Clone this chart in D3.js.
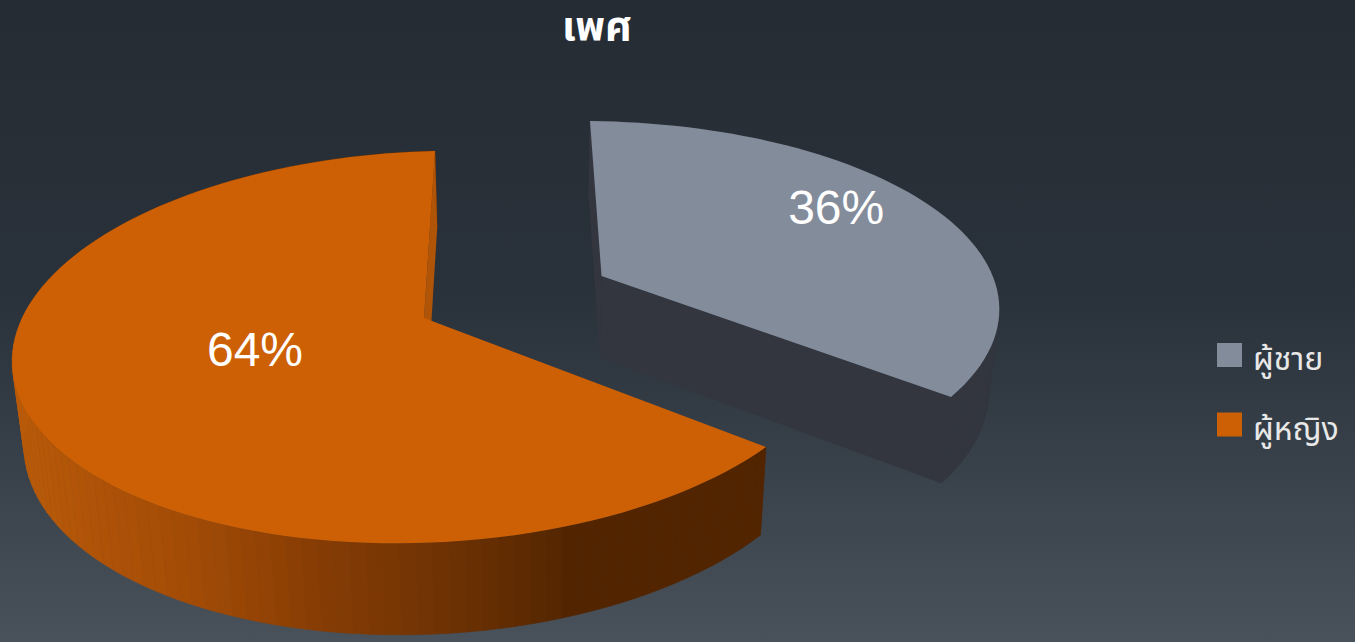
<!DOCTYPE html>
<html>
<head>
<meta charset="utf-8">
<script src="https://cdn.jsdelivr.net/npm/d3@7/dist/d3.min.js"></script>
<style>
  html, body { margin: 0; padding: 0; background: #252c34; overflow: hidden; }
  text { font-family: "Liberation Sans", Arial, "Noto Sans Thai", "Noto Sans", sans-serif; }
</style>
</head>
<body>
<svg id="chart" width="1355" height="642"></svg>
<script>
// Gender split, shown as an exploded 3D pie
const chartTitle = "เพศ";
const categories = ["ผู้ชาย", "ผู้หญิง"];
const shares = [36, 64];
const topColors = ["#838c9b", "#cd6005"];

const width = 1355, height = 642;
const svg = d3.select("#chart");

// Page background
const defs = svg.append("defs");
const bg = defs.append("linearGradient").attr("id", "bg").attr("x1", 0).attr("x2", 0).attr("y1", 0).attr("y2", 1);
[[0, "#252c34"], [0.45, "#29313a"], [0.62, "#323b44"], [1, "#49525b"]].forEach(([o, c]) =>
  bg.append("stop").attr("offset", o).attr("stop-color", c));
svg.append("rect").attr("width", width).attr("height", height).attr("fill", "url(#bg)");

// Plane projection of a disc: solved from where four of its points land on screen
function solveHomography(pairs) {
  const m = [];
  pairs.forEach(([[u, v], [x, y]]) => {
    m.push([u, v, 1, 0, 0, 0, -x * u, -x * v, x]);
    m.push([0, 0, 0, u, v, 1, -y * u, -y * v, y]);
  });
  for (let i = 0; i < 8; i++) {
    let p = i;
    for (let r = i + 1; r < 8; r++) if (Math.abs(m[r][i]) > Math.abs(m[p][i])) p = r;
    [m[i], m[p]] = [m[p], m[i]];
    for (let r = 0; r < 8; r++) {
      if (r === i) continue;
      const f = m[r][i] / m[i][i];
      for (let c = i; c < 9; c++) m[r][c] -= f * m[i][c];
    }
  }
  return m.map((row, i) => row[8] / row[i]);
}

const pieSlices = d3.pie().sort(null).value(d => d)(shares);
const unit = a => [Math.sin(a), -Math.cos(a)];
const split = pieSlices[0].endAngle;

// Each slice is pulled out of the pie, so each gets its own view of the disc
const views = [
  solveHomography([
    [[0, 0], [601.5, 276]],
    [unit(0), [590, 121]],
    [unit(split), [951, 397]],
    [unit(Math.PI / 2), [991, 272]]
  ]),
  solveHomography([
    [[0, 0], [424, 318]],
    [unit(0), [435, 151]],
    [unit(split), [766, 447]],
    [unit(Math.PI * 1.5), [18.8, 326.2]]
  ])
];

const toScreen = (H, [u, v]) => {
  const w = H[6] * u + H[7] * v + 1;
  return [(H[0] * u + H[1] * v + H[2]) / w, (H[3] * u + H[4] * v + H[5]) / w];
};

// The underside is a little narrower and the extrusion grows toward the viewer
const drop = ([x, y]) => [530 + 0.977 * (x - 530), y + 71.5 + 0.037 * y];

const wallShade = [
  () => "#33363e",
  d3.scaleLinear().domain([20, 100, 200, 300, 400, 500, 570]).clamp(true)
    .range(["#b85a08", "#ae5208", "#a04a06", "#8a3e04", "#773604", "#622d02", "#522500"])
];
const cutColors = ["#33363e", "#b05408"];
// Cut faces that turn toward the viewer, per slice
const visibleCuts = [["startAngle", "endAngle"], ["endAngle"]];

const line = d3.line();
const STEP = Math.PI / 90;

pieSlices.forEach((s, i) => {
  const g = svg.append("g").attr("class", "slice");
  const pt = (a, r) => {
    const [u, v] = unit(a);
    return toScreen(views[i], [r * u, r * v]);
  };
  const n = Math.ceil((s.endAngle - s.startAngle) / STEP);
  const angles = d3.range(n + 1).map(k => s.startAngle + (s.endAngle - s.startAngle) * k / n);
  const centre = pt(0, 0);

  // Outer wall, one narrow facet per step along the rim
  d3.pairs(angles).forEach(([a0, a1]) => {
    const p0 = pt(a0, 1), p1 = pt(a1, 1);
    const colour = wallShade[i]((p0[0] + p1[0]) / 2);
    g.append("path")
      .attr("d", line([p0, p1, drop(p1), drop(p0)]) + "Z")
      .attr("fill", colour).attr("stroke", colour).attr("stroke-width", 0.6);
  });

  // Flat cut faces
  visibleCuts[i].forEach(key => {
    const rim = pt(s[key], 1);
    g.append("path")
      .attr("d", line([centre, rim, drop(rim), drop(centre)]) + "Z")
      .attr("fill", cutColors[i]);
  });

  // Top face
  g.append("path")
    .attr("d", line([centre, ...angles.map(a => pt(a, 1))]) + "Z")
    .attr("fill", topColors[i]);
});

// Percentage labels
const labelSpots = [{ radius: 0.762, turn: -7 }, { radius: 0.426, turn: 5.7 }];
pieSlices.forEach((s, i) => {
  const a = (s.startAngle + s.endAngle) / 2 + labelSpots[i].turn * Math.PI / 180;
  const [u, v] = unit(a);
  const [x, y] = toScreen(views[i], [labelSpots[i].radius * u, labelSpots[i].radius * v]);
  svg.append("text")
    .attr("x", x).attr("y", y).attr("dy", "0.35em")
    .attr("text-anchor", "middle").attr("fill", "#fff").attr("font-size", 48)
    .text(shares[i] + "%");
});

// Title
svg.append("text").attr("x", 597).attr("y", 40)
  .attr("text-anchor", "middle").attr("fill", "#fff")
  .attr("font-size", 41).attr("font-weight", "bold").text(chartTitle);

// Legend
const legend = svg.append("g").selectAll("g").data(categories).join("g")
  .attr("transform", (d, i) => `translate(1217,${343 + i * 69.5})`);
legend.append("rect").attr("width", 25).attr("height", 24).attr("fill", (d, i) => topColors[i]);
legend.append("text").attr("x", 36).attr("y", 27)
  .attr("fill", "#e8e8e8").attr("font-size", 32).text(d => d);
</script>
</body>
</html>
